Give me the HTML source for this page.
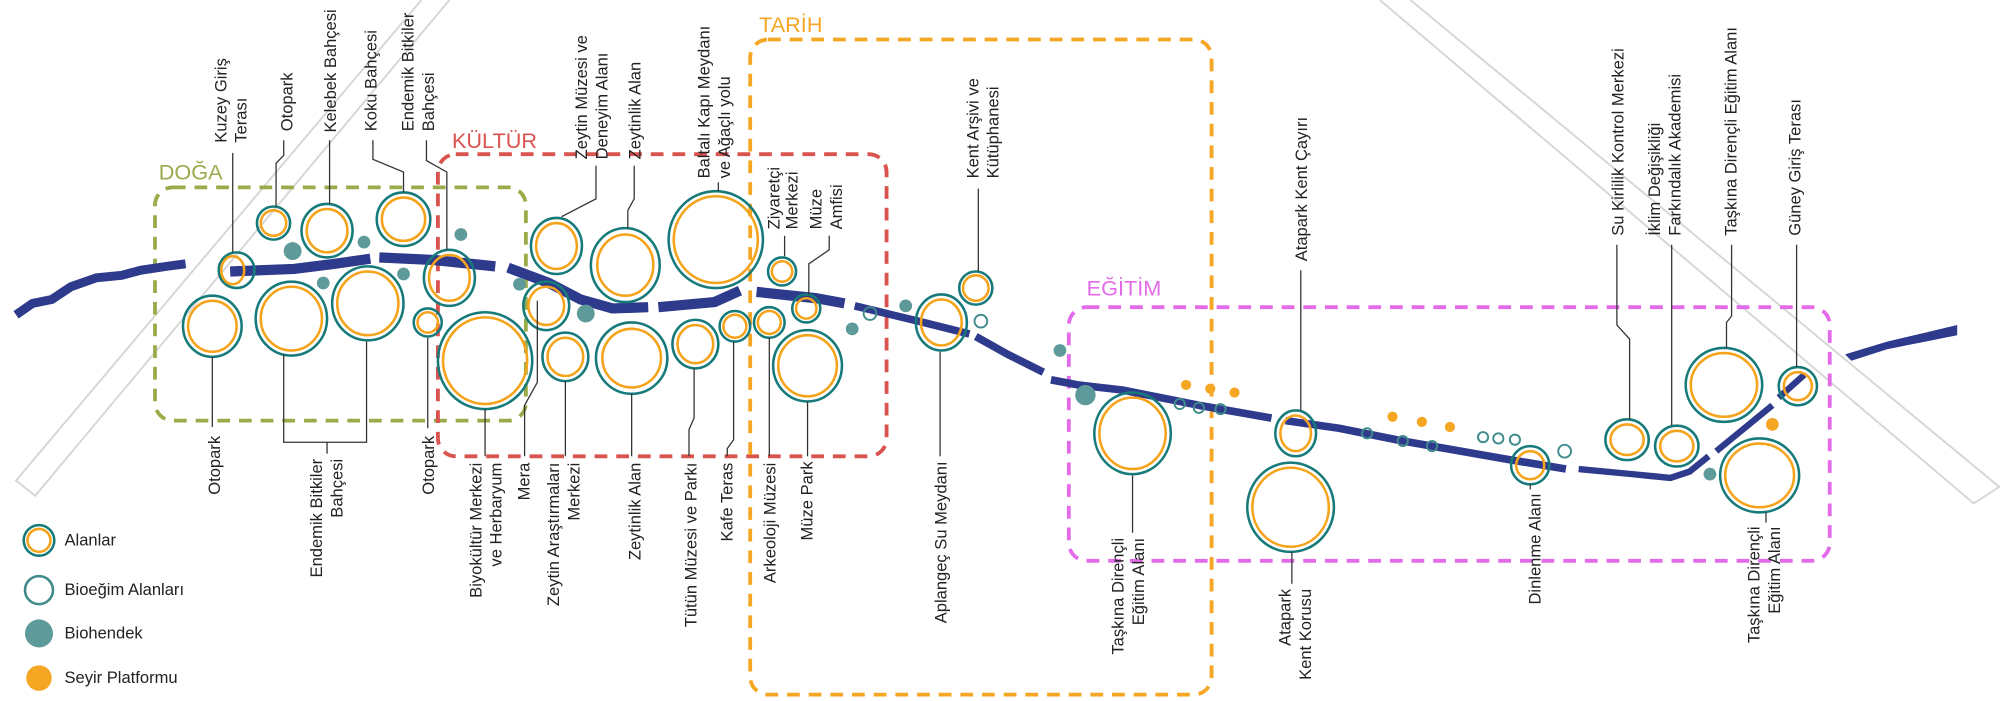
<!DOCTYPE html>
<html><head><meta charset="utf-8"><style>
html,body{margin:0;padding:0;background:#fff;}
svg{display:block;}
text{font-family:"Liberation Sans",sans-serif;font-size:13px;fill:#222;}
.ttl{font-size:17px;}
</style></head><body>
<svg width="2000" height="701" viewBox="0 0 1568 550" xmlns="http://www.w3.org/2000/svg">
<g fill="none" stroke="#d6d6d6" stroke-width="1.5">
<polyline points="330,0 12,377 27,389 352,0"/>
<polyline points="1082,0 1548,395 1568,382 1106,0"/>
</g>
<g fill="none" stroke-width="3" stroke-dasharray="10,7">
<rect x="121" y="147" width="291" height="183" rx="14" stroke="#9aab4a"/>
<rect x="343" y="121" width="352" height="237" rx="14" stroke="#d9534f"/>
<rect x="588" y="31" width="362" height="514" rx="14" stroke="#f5a623"/>
<rect x="838" y="241" width="597" height="199" rx="14" stroke="#e36bea"/>
</g>
<text class="ttl" x="124" y="141" style="fill:#9aab4a">DOĞA</text>
<text class="ttl" x="354" y="116" style="fill:#d9534f">KÜLTÜR</text>
<text class="ttl" x="595" y="25" style="fill:#f5a623">TARİH</text>
<text class="ttl" x="852" y="232" style="fill:#e36bea">EĞİTİM</text>
<g fill="none" stroke="#2e3a8c" stroke-linejoin="round">
<polyline stroke-width="7" points="12,247 25,238 40,235 55,225 75,218 95,216 110,212 130,209 145,207"/>
<polyline stroke-width="8" points="180,213 230,211 262,207 290,203"/>
<polyline stroke-width="8" points="297,202 340,204 388,209"/>
<polyline stroke-width="8" points="398,210 430,222 455,235 480,242 508,241"/>
<polyline stroke-width="8" points="516,241 560,237 580,228"/>
<polyline stroke-width="8" points="593,229 640,234 662,238"/>
<polyline stroke-width="6" points="670,240 720,252 760,262"/>
<polyline stroke-width="6" points="765,264 790,278 818,292"/>
<polyline stroke-width="6" points="824,298 845,302 880,306 940,318 997,328"/>
<polyline stroke-width="6" points="1008,330 1050,336 1100,346 1180,360 1228,368"/>
<polyline stroke-width="5" points="1238,368 1280,372 1310,375 1325,370 1340,358"/>
<polyline stroke-width="5" points="1346,354 1390,318"/>
<polyline stroke-width="5" points="1395,312 1415,294"/>
<polygon fill="#2e3a8c" stroke="none" points="1447,278 1480,268 1510,261 1535,255 1535,263 1510,268 1480,274 1452,283"/>
</g>
<g fill="none" stroke-width="2">
<g stroke="#177a7a">
<circle cx="185" cy="212" r="14"/><circle cx="214" cy="175" r="13"/>
<ellipse cx="256" cy="181" rx="20" ry="21"/><ellipse cx="316" cy="172" rx="21" ry="21"/>
<ellipse cx="352" cy="218" rx="20" ry="22"/><ellipse cx="166" cy="256" rx="23" ry="24"/>
<ellipse cx="228" cy="250" rx="28" ry="29"/><ellipse cx="288" cy="238" rx="28" ry="29"/>
<circle cx="335" cy="253" r="11"/><ellipse cx="380" cy="283" rx="37" ry="38"/>
<ellipse cx="436" cy="193" rx="20" ry="22"/><ellipse cx="428" cy="240" rx="18" ry="19"/>
<ellipse cx="490" cy="208" rx="27" ry="29"/><ellipse cx="443" cy="280" rx="18" ry="19"/>
<ellipse cx="495" cy="281" rx="28" ry="28"/><ellipse cx="561" cy="188" rx="37" ry="38"/>
<ellipse cx="545" cy="270" rx="18" ry="19"/><circle cx="576" cy="256" r="12"/>
<circle cx="603" cy="253" r="12"/><circle cx="613" cy="213" r="11"/>
<circle cx="632" cy="242" r="11"/><ellipse cx="633" cy="287" rx="27" ry="28"/>
<ellipse cx="738" cy="253" rx="20" ry="22"/><circle cx="765" cy="226" r="13"/>
<ellipse cx="888" cy="340" rx="30" ry="32"/><ellipse cx="1016" cy="340" rx="16" ry="18"/>
<ellipse cx="1012" cy="398" rx="34" ry="35"/><circle cx="1200" cy="365" r="15"/>
<ellipse cx="1276" cy="345" rx="17" ry="16"/><ellipse cx="1315" cy="350" rx="17" ry="16"/>
<ellipse cx="1352" cy="302" rx="30" ry="29"/><ellipse cx="1380" cy="373" rx="31" ry="29"/>
<circle cx="1410" cy="303" r="15"/>
<circle cx="30" cy="424" r="12"/>
</g>
<g stroke="#f5a31a">
<ellipse cx="182" cy="212" rx="9" ry="11"/><circle cx="214" cy="175" r="10"/>
<ellipse cx="256" cy="181" rx="16" ry="17"/><ellipse cx="316" cy="172" rx="17" ry="17"/>
<ellipse cx="352" cy="218" rx="16" ry="18"/><ellipse cx="166" cy="256" rx="19" ry="20"/>
<ellipse cx="228" cy="250" rx="24" ry="25"/><ellipse cx="288" cy="238" rx="24" ry="25"/>
<circle cx="335" cy="253" r="8"/><ellipse cx="380" cy="283" rx="33" ry="34"/>
<ellipse cx="436" cy="193" rx="16" ry="18"/><ellipse cx="428" cy="240" rx="14" ry="15"/>
<ellipse cx="490" cy="208" rx="22" ry="24"/><ellipse cx="443" cy="280" rx="14" ry="15"/>
<ellipse cx="495" cy="281" rx="23" ry="23"/><ellipse cx="561" cy="188" rx="33" ry="34"/>
<ellipse cx="545" cy="270" rx="14" ry="15"/><circle cx="576" cy="256" r="9"/>
<circle cx="603" cy="253" r="9"/><circle cx="613" cy="213" r="8"/>
<circle cx="632" cy="242" r="8"/><ellipse cx="633" cy="287" rx="23" ry="24"/>
<ellipse cx="738" cy="253" rx="16" ry="18"/><circle cx="765" cy="226" r="10"/>
<ellipse cx="888" cy="340" rx="26" ry="28"/><ellipse cx="1016" cy="340" rx="12" ry="14"/>
<ellipse cx="1012" cy="398" rx="30" ry="31"/><circle cx="1200" cy="365" r="11"/>
<ellipse cx="1276" cy="345" rx="13" ry="12"/><ellipse cx="1315" cy="350" rx="13" ry="12"/>
<ellipse cx="1352" cy="302" rx="26" ry="25"/><ellipse cx="1380" cy="373" rx="27" ry="25"/>
<circle cx="1410" cy="303" r="11"/>
<circle cx="30" cy="424" r="9"/>
</g>
<g stroke="#3f8a8a" stroke-width="1.5">
<circle cx="682" cy="246" r="5"/><circle cx="769" cy="252" r="5"/>
<circle cx="925" cy="317" r="4"/><circle cx="940" cy="320" r="4"/><circle cx="957" cy="321" r="4"/>
<circle cx="1072" cy="340" r="4"/><circle cx="1100" cy="346" r="4"/><circle cx="1123" cy="350" r="4"/>
<circle cx="1163" cy="343" r="4"/><circle cx="1175" cy="344" r="4"/><circle cx="1188" cy="345" r="4"/>
<circle cx="1227" cy="354" r="5"/>
<circle cx="30" cy="463" r="11" stroke-width="2"/>
</g>
</g>
<g fill="#5e9a9a">
<circle cx="229" cy="197" r="7"/><circle cx="285" cy="190" r="5"/><circle cx="253" cy="222" r="5"/>
<circle cx="316" cy="215" r="5"/><circle cx="361" cy="184" r="5"/><circle cx="407" cy="223" r="5"/>
<circle cx="459" cy="246" r="7"/><circle cx="668" cy="258" r="5"/><circle cx="710" cy="240" r="5"/>
<circle cx="831" cy="275" r="5"/><circle cx="851" cy="310" r="8"/><circle cx="1341" cy="372" r="5"/>
<circle cx="30" cy="497" r="11"/>
</g>
<g fill="#f5a623">
<circle cx="930" cy="302" r="4"/><circle cx="949" cy="305" r="4"/><circle cx="968" cy="308" r="4"/>
<circle cx="1092" cy="327" r="4"/><circle cx="1115" cy="331" r="4"/><circle cx="1137" cy="335" r="4"/>
<circle cx="1390" cy="333" r="5"/><circle cx="30" cy="532" r="10"/>
</g>
<g fill="none" stroke="#333" stroke-width="1">
<polyline points="182,120 182,198"/>
<polyline points="222,110 222,122 216,128 216,162"/>
<polyline points="258,110 258,160"/>
<polyline points="292,110 292,125 316,135 316,151"/>
<polyline points="334,110 334,126 350,135 350,196"/>
<polyline points="467,130 467,156 440,170"/>
<polyline points="497,130 497,156 492,165 492,179"/>
<polyline points="563,143 563,150"/>
<polyline points="615,185 615,201"/>
<polyline points="650,185 650,196 634,207 634,231"/>
<polyline points="767,148 767,213"/>
<polyline points="1020,212 1020,322"/>
<polyline points="1268,192 1268,255 1278,266 1278,329"/>
<polyline points="1311,192 1311,334"/>
<polyline points="1358,192 1358,248 1354,253 1354,273"/>
<polyline points="1409,192 1409,288"/>
<polyline points="166,280 166,335"/>
<polyline points="222,278 222,347 287,347 287,268"/>
<polyline points="256,347 256,356"/>
<polyline points="335,265 335,336"/>
<polyline points="380,321 380,358"/>
<polyline points="421,236 421,300 411,318 411,358"/>
<polyline points="443,299 443,358"/>
<polyline points="495,309 495,358"/>
<polyline points="544,289 544,328 540,337 540,358"/>
<polyline points="575,268 575,345 570,352 570,358"/>
<polyline points="603,265 603,358"/>
<polyline points="633,315 633,358"/>
<polyline points="737,276 737,358"/>
<polyline points="888,373 888,418"/>
<polyline points="1013,433 1013,458"/>
<polyline points="1200,380 1200,384"/>
<polyline points="1385,402 1385,410"/>
</g>
<g>
<text transform="translate(177,112) rotate(-90)">Kuzey Giriş</text>
<text transform="translate(193,112) rotate(-90)">Terası</text>
<text transform="translate(229,103) rotate(-90)">Otopark</text>
<text transform="translate(263,104) rotate(-90)">Kelebek Bahçesi</text>
<text transform="translate(295,103) rotate(-90)">Koku Bahçesi</text>
<text transform="translate(324,103) rotate(-90)">Endemik Bitkiler</text>
<text transform="translate(340,103) rotate(-90)">Bahçesi</text>
<text transform="translate(460,125) rotate(-90)">Zeytin Müzesi ve</text>
<text transform="translate(476,125) rotate(-90)">Deneyim Alanı</text>
<text transform="translate(502,125) rotate(-90)">Zeytinlik Alan</text>
<text transform="translate(556,140) rotate(-90)">Baltalı Kapı Meydanı</text>
<text transform="translate(572,140) rotate(-90)">ve Ağaçlı yolu</text>
<text transform="translate(611,180) rotate(-90)">Ziyaretçi</text>
<text transform="translate(625,180) rotate(-90)">Merkezi</text>
<text transform="translate(644,180) rotate(-90)">Müze</text>
<text transform="translate(660,180) rotate(-90)">Amfisi</text>
<text transform="translate(767,140) rotate(-90)">Kent Arşivi ve</text>
<text transform="translate(783,140) rotate(-90)">Kütüphanesi</text>
<text transform="translate(1025,205) rotate(-90)">Atapark Kent Çayırı</text>
<text transform="translate(1273,185) rotate(-90)">Su Kirlilik Kontrol Merkezi</text>
<text transform="translate(1302,185) rotate(-90)">İklim Değişikliği</text>
<text transform="translate(1318,185) rotate(-90)">Farkındalık Akademisi</text>
<text transform="translate(1362,185) rotate(-90)">Taşkına Dirençli Eğitim Alanı</text>
<text transform="translate(1412,185) rotate(-90)">Güney Giriş Terası</text>
</g>
<g text-anchor="end">
<text transform="translate(172,342) rotate(-90)">Otopark</text>
<text transform="translate(252,360) rotate(-90)">Endemik Bitkiler</text>
<text transform="translate(268,360) rotate(-90)">Bahçesi</text>
<text transform="translate(340,342) rotate(-90)">Otopark</text>
<text transform="translate(377,363) rotate(-90)">Biyokültür Merkezi</text>
<text transform="translate(393,363) rotate(-90)">ve Herbaryum</text>
<text transform="translate(415,363) rotate(-90)">Mera</text>
<text transform="translate(438,363) rotate(-90)">Zeytin Araştırmaları</text>
<text transform="translate(454,363) rotate(-90)">Merkezi</text>
<text transform="translate(502,363) rotate(-90)">Zeytinlik Alan</text>
<text transform="translate(546,363) rotate(-90)">Tütün Müzesi ve Parkı</text>
<text transform="translate(574,363) rotate(-90)">Kafe Teras</text>
<text transform="translate(608,363) rotate(-90)">Arkeoloji Müzesi</text>
<text transform="translate(637,362) rotate(-90)">Müze Park</text>
<text transform="translate(742,362) rotate(-90)">Aplangeç Su Meydanı</text>
<text transform="translate(881,422) rotate(-90)">Taşkına Dirençli</text>
<text transform="translate(897,422) rotate(-90)">Eğitim Alanı</text>
<text transform="translate(1012,462) rotate(-90)">Atapark</text>
<text transform="translate(1028,462) rotate(-90)">Kent Korusu</text>
<text transform="translate(1208,387) rotate(-90)">Dinlenme Alanı</text>
<text transform="translate(1380,413) rotate(-90)">Taşkına Dirençli</text>
<text transform="translate(1396,413) rotate(-90)">Eğitim Alanı</text>
</g>
<text x="50" y="428">Alanlar</text>
<text x="50" y="467">Bioeğim Alanları</text>
<text x="50" y="501">Biohendek</text>
<text x="50" y="536">Seyir Platformu</text>
</svg>
</body></html>
